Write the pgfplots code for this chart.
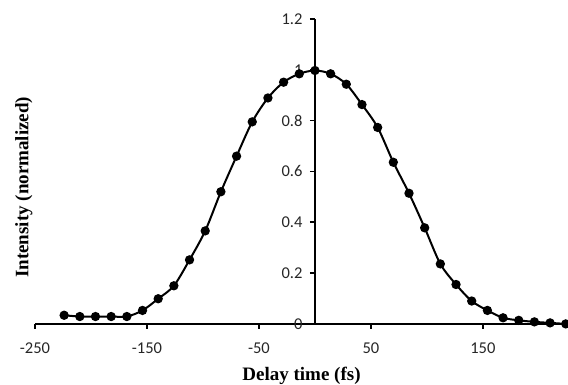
\documentclass[border=0pt]{standalone}
\usepackage{fontspec}
\setmainfont{Liberation Serif}
\newfontfamily\calibri{Carlito}
\usepackage{pgfplots}
\pgfplotsset{compat=1.18}
\begin{document}
\begin{tikzpicture}
\begin{axis}[
  scale only axis,
  width=533pt, height=305pt,
  xmin=-250, xmax=226, ymin=0, ymax=1.2,
  axis lines=middle,
  axis line style={-, line width=1.8pt, black},
  hide obscured x ticks=false,
  hide obscured y ticks=false,
  xtick={-250,-150,-50,50,150},
  ytick={0,0.2,0.4,0.6,0.8,1,1.2},
  tick align=outside,
  major tick length=5pt,
  tick style={line width=1.6pt, black},
  /pgf/number format/assume math mode=true,
  tick label style={font=\calibri\fontsize{16.5}{18}\selectfont, text=black!85},
  xticklabel style={anchor=north, yshift=-10pt},
  yticklabel style={anchor=east, xshift=-4pt},
  clip=false,
]
\addplot[black, line width=2pt, smooth, mark=*, mark size=3.6pt, mark options={fill=black}] coordinates {
(-224,0.034) (-210,0.029) (-196,0.029) (-182,0.029) (-168,0.029)
(-154,0.053) (-140,0.099) (-126,0.150) (-112,0.252) (-98,0.366)
(-84,0.520) (-70,0.660) (-56,0.795) (-42,0.889) (-28,0.951)
(-14,0.984) (0,0.997) (14,0.984) (28,0.943) (42,0.863)
(56,0.773) (70,0.636) (84,0.514) (98,0.378) (112,0.236)
(126,0.155) (140,0.090) (154,0.053) (168,0.024) (182,0.014)
(196,0.008) (210,0.004) (224,0.0)
};
\node[font=\bfseries\fontsize{19}{22}\selectfont, anchor=north] at (rel axis cs:0.5,-0.13) {Delay time (fs)};
\node[font=\bfseries\fontsize{19}{22}\selectfont, rotate=90] at (rel axis cs:-0.021,0.448) {Intensity (normalized)};
\coordinate (bbSW) at (rel axis cs:-0.0657,-0.2);
\coordinate (bbNE) at (rel axis cs:1,1.062);
\end{axis}
\pgfresetboundingbox
\path (bbSW) rectangle (bbNE);
\end{tikzpicture}
\end{document}
